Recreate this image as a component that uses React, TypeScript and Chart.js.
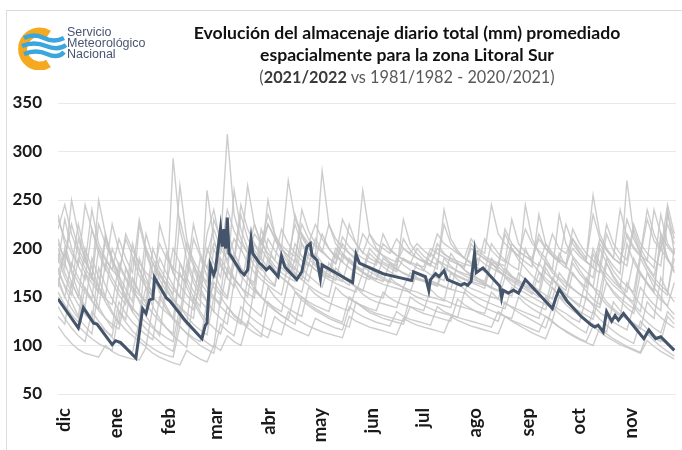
import React, { useEffect, useRef } from "react";
import { Chart, registerables } from "chart.js";

Chart.register(...registerables);

// ---- Data ----
const months = ["dic", "ene", "feb", "mar", "abr", "may", "jun", "jul", "ago", "sep", "oct", "nov"];
const monthStartDays = [0, 31, 62, 90, 121, 151, 182, 212, 243, 274, 304, 335];
const yTicks = [50, 100, 150, 200, 250, 300, 350];

// 2021/2022 series (day of season since 1 Dec, value mm)
const blueDays = [0, 12, 15, 21, 23, 32, 34, 37, 46, 50, 52, 54, 56, 57, 64, 66, 75, 85, 87, 88, 90, 92, 93, 96, 97, 98, 99, 100, 101, 103, 108, 110, 112, 114, 115, 119, 121, 123, 125, 130, 132, 134, 141, 144, 147, 149, 150, 153, 155, 156, 174, 176, 178, 192, 199, 209, 210, 217, 219, 220, 223, 225, 228, 230, 238, 240, 242, 244, 246, 247, 251, 261, 262, 263, 266, 269, 272, 276, 292, 294, 296, 301, 309, 315, 317, 319, 322, 324, 327, 329, 331, 334, 346, 349, 353, 356, 364];
const blueValues = [148, 118, 139, 123, 122, 101, 105, 103, 87, 138, 133, 147, 148, 170, 149, 146, 126, 107, 121, 123, 183, 173, 178, 221, 202, 220, 200, 232, 195, 190, 176, 173, 178, 210, 195, 185, 182, 178, 181, 171, 192, 181, 168, 176, 202, 205, 193, 188, 169, 183, 165, 194, 185, 174, 171, 167, 176, 171, 157, 168, 174, 171, 177, 168, 162, 164, 162, 166, 195, 175, 180, 161, 149, 157, 154, 157, 154, 168, 138, 149, 158, 145, 130, 121, 119, 121, 114, 135, 125, 131, 126, 133, 107, 116, 107, 109, 95];

// Historical seasons 1981/1982 - 2020/2021, sampled every 4 days
const SAMPLE_STEP = 4;
const gray1 = [235,205,180,225,195,170,250,215, 190,170,150,205,180,160,140,225, 200,175,265,210,185,165,215, 240,205,318,235,210,195,225,205, 235,215,200,270,230,215,205, 225,210,200,190,230,215,205,195, 215,205,200,195,210,200,195, 205,198,192,215,205,200,195,190, 210,200,195,245,215,205,198,192, 220,205,198,190,215,200,195, 210,200,190,255,215,200,190,185, 230,210,195,240,215,200,225,205];
const gray2 = [210,185,165,150,200,180,160,215, 185,165,148,135,190,170,150,175, 160,145,130,185,165,150,200, 185,170,220,195,180,170,205,190, 180,210,195,185,178,215,200, 190,182,176,200,192,186,180,175, 195,188,184,180,176,190,185, 180,177,195,188,184,180,177,174, 172,190,184,180,176,172,200,188, 180,172,165,185,175,168,160, 190,178,168,160,200,185,172,162, 155,190,175,165,155,215,190,175];
const gray3 = [180,160,145,130,175,155,140,128, 118,165,150,135,125,200,175,155, 140,128,175,160,145,132,120, 175,160,150,195,180,170,162,200, 188,178,170,165,190,180,172, 166,160,185,176,170,165,160,156, 180,174,170,166,163,160,175, 170,167,164,161,180,175,171,168, 165,162,159,185,177,171,166,162, 158,153,175,166,159,152,146, 175,165,156,148,142,185,170,160, 150,142,135,175,160,150,140,132];
const gray4 = [160,200,175,155,140,190,170,150, 135,122,180,160,145,130,120,110, 165,150,135,122,180,160,145, 135,210,185,170,160,150,195,180, 170,162,200,188,180,172,166, 195,185,178,172,167,162,190,182, 176,172,168,165,190,183,178, 174,170,167,164,161,158,185,178, 172,167,163,159,156,180,172,166, 160,155,150,180,168,160,152, 146,140,170,160,150,142,136,130, 165,152,142,134,128,170,155,145];
const gray5 = [120,110,102,96,92,90,88,100, 94,90,88,86,85,98,92,88, 85,82,80,95,90,86,83, 100,95,110,104,100,125,118,112, 108,130,124,120,116,113,110, 128,124,121,118,116,140,134,130, 127,124,122,120,135,130,127, 125,123,121,140,135,132,129,127, 125,123,121,119,135,130,126,123, 120,117,114,130,124,119,115, 111,107,104,120,114,109,105,101, 98,95,92,105,99,94,90,86];
const gray6 = [140,128,118,110,104,135,125,116, 108,102,97,93,125,117,110,104, 98,94,130,122,115,108,103, 98,150,140,132,126,120,160,150, 142,136,131,127,155,147,141, 136,132,128,125,122,119,145,139, 134,131,128,126,124,122,140, 136,133,131,129,127,125,148,142, 138,134,131,128,125,145,139,134, 130,126,122,118,140,133,127, 122,117,113,135,127,121,115,110, 106,102,125,117,111,106,101,97];
const gray7 = [200,180,250,215,190,170,155,210, 190,172,158,145,225,195,175,160, 148,293,220,190,170,155,145, 200,182,170,260,220,200,188,178, 210,198,188,180,235,212,200, 192,280,225,205,195,188,182,178, 200,192,186,182,178,230,205, 195,188,183,179,240,210,198,190, 184,180,176,205,195,188,182,178, 245,210,195,186,178,235,205, 192,183,176,170,205,192,182,174, 270,215,195,182,172,200,188,180];
const gray8 = [190,170,155,142,132,125,180,162, 148,136,127,170,155,143,133,125, 118,112,185,165,150,140,260, 210,185,170,160,200,185,175,168, 162,157,152,185,175,168,162, 157,153,150,180,172,166,161,157, 154,151,149,170,164,160,157, 155,152,150,148,146,175,168,163, 159,156,153,150,148,170,163,158, 154,150,146,142,170,160,153, 147,142,137,133,180,165,154,146, 139,133,160,150,142,136,240,195];
const gray9 = [170,150,138,128,120,112,160,145, 133,124,116,110,104,99,140,128, 118,110,104,98,150,135,125, 118,112,140,130,124,118,113,109, 145,137,131,126,122,150,143, 138,134,130,127,124,150,144,140, 136,133,131,129,127,125,150, 145,141,138,135,133,131,129,155, 148,143,139,136,133,130,128,150, 143,138,134,130,126,150,142, 136,131,126,122,118,114,145,136, 129,123,118,113,108,104,130,122];
const gray10 = [220,245,215,195,180,168,225,205, 188,175,210,192,178,165,155,190, 175,162,150,205,188,175,165, 230,210,198,188,245,220,205,195, 225,210,200,192,186,240,218, 205,196,190,185,212,202,195,190, 186,183,205,198,193,189,186, 183,181,200,195,191,187,184,182, 200,194,190,186,183,220,205,197, 192,187,182,205,196,189,184, 220,205,195,188,182,225,205,195, 188,225,205,195,188,182,235,210];
const gray11 = [150,138,128,120,113,107,102,98, 95,135,124,115,108,102,97,93, 90,88,120,112,106,100,96, 92,122,115,110,140,132,126,121, 117,114,111,135,128,124,120, 117,114,112,110,108,130,125,122, 119,117,115,113,111,128,124, 121,119,117,115,113,130,126,123, 120,118,116,114,112,130,125,121, 117,113,110,107,125,119,114, 110,106,103,100,118,112,107,103, 99,96,93,112,105,99,94,89];
const gray12 = [175,195,178,165,155,146,138,185, 170,157,147,138,131,160,150,141, 134,128,122,170,156,146,138, 165,155,148,185,172,163,156,150, 190,178,170,164,159,155,185, 178,172,168,164,161,158,155,175, 170,166,163,161,159,157,155, 175,170,166,163,160,158,156,154, 175,169,164,160,157,154,151,175, 168,162,157,152,148,175,166, 159,153,148,143,139,165,156,149, 143,138,175,163,154,147,141,165];
const gray13 = [195,175,160,210,188,172,160,150, 200,182,168,156,147,140,185,168, 156,147,140,133,128,175,160, 150,143,180,168,160,154,149,210, 192,182,175,170,166,205,190, 182,176,171,167,195,186,180,175, 171,168,190,184,179,175,172, 169,167,165,188,181,176,172,169, 166,164,162,185,178,172,168,164, 161,158,155,190,178,170,164, 158,153,149,195,180,170,162,156, 150,145,190,176,166,158,152,200];
const gray14 = [130,122,165,150,138,128,121,115, 110,145,133,124,117,111,106,150, 137,127,119,113,108,104,145, 135,128,122,165,152,143,136,130, 160,150,143,138,134,130,160, 153,148,144,141,138,136,160,153, 148,145,143,141,139,160,154, 150,147,145,143,141,139,165,158, 153,149,146,143,140,138,160,153, 148,144,140,137,160,151,145, 140,135,131,127,155,145,138,132, 127,122,117,145,136,129,123,118];
const gray15 = [205,190,225,200,185,240,205,190, 178,210,190,175,230,200,185,172, 162,200,185,172,225,195,180, 170,215,195,185,235,210,198,188, 250,215,200,192,225,205,195, 188,215,200,192,186,225,205,196, 190,186,215,200,193,188,184, 200,192,187,183,225,205,196,190, 186,183,210,198,191,186,230,205, 196,190,215,200,192,186,225, 205,195,188,235,210,198,190,240, 212,200,192,230,208,198,245,215];
const gray16 = [165,150,185,170,158,148,200,180, 165,152,142,190,172,160,150,142, 195,175,162,152,144,190,172, 160,152,205,188,178,170,165,220, 200,188,180,174,205,192,184, 178,174,170,195,186,180,175,171, 168,188,181,176,172,169,166, 185,178,173,170,167,195,185,178, 173,169,166,190,181,175,170,166, 200,185,176,169,163,195,182, 173,166,160,200,185,174,166,159, 205,186,173,164,157,210,190,177];
const gray17 = [185,230,200,182,168,220,195,178, 225,198,180,166,155,215,190,175, 163,153,230,200,182,170,195, 220,200,188,210,198,265,225,205, 195,188,220,205,195,188,182, 210,198,190,184,205,195,188,260, 215,200,192,186,182,210,198, 190,186,182,205,195,189,184,180, 205,195,189,184,180,215,200,192, 186,181,235,205,193,186,180, 210,196,187,180,175,215,198,188, 182,220,200,188,180,235,205,195];
const gray18 = [155,142,132,124,160,146,136,128, 122,117,150,139,130,124,118,113, 108,104,140,130,122,116,111, 150,140,133,127,122,170,158,150, 144,139,135,165,156,150,145, 141,138,135,160,153,148,144,141, 138,136,155,149,145,142,140, 138,136,158,151,147,144,141,139, 137,135,133,155,148,143,140,137, 134,131,128,150,142,137,133, 128,124,150,141,134,129,124,120, 116,140,131,124,118,113,135,127];
const gray19 = [175,162,152,190,175,164,155,148, 142,185,170,160,152,146,200,180, 168,158,150,143,137,165,155, 148,190,177,168,161,195,182,173, 166,161,190,180,173,168,195, 184,178,173,169,166,190,182,176, 172,169,166,185,179,174,171, 168,166,164,162,190,182,176,172, 169,166,163,160,185,177,171,167, 163,159,185,175,168,162,157, 185,174,166,160,155,190,177,168, 161,155,195,180,170,162,155,190];
const gray20 = [230,210,195,183,245,220,200,188, 178,170,215,198,185,175,168,205, 190,180,172,165,210,192,180, 205,195,240,218,205,196,215,205, 225,212,203,197,192,225,210, 202,196,225,210,201,195,190,215, 205,198,193,189,186,200,194, 190,187,184,200,194,190,187,184, 182,198,192,188,185,182,205,197, 192,188,210,200,193,188,184, 200,192,186,181,210,198,190,184, 215,202,193,187,240,215,202,193];

const grayList = [gray1, gray2, gray3, gray4, gray5, gray6, gray7, gray8, gray9, gray10, gray11, gray12, gray13, gray14, gray15, gray16, gray17, gray18, gray19, gray20];

function Logo() {
  return (
    <div style={{ position: "absolute", left: 14, top: 20, width: 160, height: 50 }}>
      <svg width="56" height="50" style={{ position: "absolute", left: 0, top: 0 }}>
        <path d="M 34.5 14.5 A 17 17 0 1 0 34.5 43.5" fill="none" stroke="#F5A91E" strokeWidth="9" />
        <path d="M 10 18 Q 20 13 30 18 T 50 18" fill="none" stroke="#3AA6DD" strokeWidth="4.5" />
        <path d="M 8 26 Q 20 21 32 26 T 52 25" fill="none" stroke="#3AA6DD" strokeWidth="4.5" />
        <path d="M 10 34 Q 22 29 33 34 T 50 32" fill="none" stroke="#3AA6DD" strokeWidth="4.5" />
      </svg>
      <div
        style={{
          position: "absolute",
          left: 53,
          top: 7,
          fontFamily: "'Liberation Sans', Arial, sans-serif",
          fontSize: 12.5,
          lineHeight: "11px",
          color: "#4a5570",
        }}
      >
        <div>Servicio</div>
        <div>Meteorológico</div>
        <div>Nacional</div>
      </div>
    </div>
  );
}

export default function App() {
  const canvasRef = useRef<HTMLCanvasElement | null>(null);

  useEffect(() => {
    if (!canvasRef.current) return;
    const grayDatasets = grayList.map((arr) => ({
      data: arr.map((v, i) => ({ x: i * SAMPLE_STEP, y: v })),
      borderColor: "rgba(196,196,196,0.85)",
      borderWidth: 1.4,
      pointRadius: 0,
      order: 1,
    }));
    const blueDataset = {
      data: blueDays.map((d, i) => ({ x: d, y: blueValues[i] })),
      borderColor: "#44546A",
      borderWidth: 3,
      pointRadius: 0,
      order: 0,
    };
    const chart = new Chart(canvasRef.current, {
      type: "line",
      data: { datasets: [blueDataset, ...grayDatasets] as any },
      options: {
        animation: false,
        responsive: false,
        parsing: false as any,
        layout: { padding: { top: 103, right: 6, bottom: 0, left: 0 } },
        plugins: { legend: { display: false }, tooltip: { enabled: false }, title: { display: false } },
        elements: { line: { tension: 0 } },
        scales: {
          x: {
            type: "linear",
            min: 0,
            max: 365,
            grid: { display: false, drawTicks: false },
            border: { display: false },
            afterBuildTicks: (scale: any) => {
              scale.ticks = monthStartDays.map((v) => ({ value: v }));
            },
            afterFit: (scale: any) => {
              scale.height = 56;
            },
            ticks: {
              autoSkip: false,
              maxRotation: 90,
              minRotation: 90,
              padding: 14,
              labelOffset: 6,
              color: "#1a1a1a",
              font: { family: "Lato, 'Open Sans', sans-serif", size: 18.5, weight: "bold" },
              callback: (_v: any, i: number) => months[i],
            },
          },
          y: {
            min: 50,
            max: 350,
            afterBuildTicks: (scale: any) => {
              scale.ticks = yTicks.map((v) => ({ value: v }));
            },
            afterFit: (scale: any) => {
              scale.width = 58;
            },
            grid: { color: "#e9e9e9", drawTicks: false, lineWidth: 1 },
            border: { display: false },
            ticks: {
              padding: 16,
              color: "#1a1a1a",
              font: { family: "Lato, 'Open Sans', sans-serif", size: 17, weight: "bold" },
            },
          },
        },
      },
    });
    return () => chart.destroy();
  }, []);

  return (
    <div style={{ position: "fixed", left: 0, top: 0, width: 682, height: 450, background: "#fff", overflow: "hidden" }}>
      <div style={{ position: "absolute", left: 6, top: 10, width: 680, height: 460, border: "1px solid #dcdcdc", boxSizing: "border-box" }} />
      <canvas ref={canvasRef} width={682} height={450} style={{ position: "absolute", left: 0, top: 0 }} />
      <Logo />
      <div
        style={{
          position: "absolute",
          left: 107,
          top: 22,
          width: 600,
          textAlign: "center",
          fontFamily: "Lato, 'Open Sans', sans-serif",
          lineHeight: "22px",
          color: "#111",
        }}
      >
        <div style={{ fontWeight: 700, fontSize: 17.6 }}>Evolución del almacenaje diario total (mm) promediado</div>
        <div style={{ fontWeight: 700, fontSize: 17.6 }}>espacialmente para la zona Litoral Sur</div>
        <div style={{ color: "#595959", fontSize: 16.3 }}>
          (<b style={{ color: "#3a3a3a" }}>2021/2022</b> vs 1981/1982 - 2020/2021)
        </div>
      </div>
    </div>
  );
}
